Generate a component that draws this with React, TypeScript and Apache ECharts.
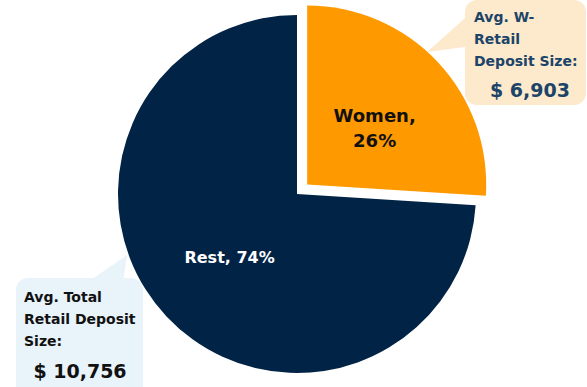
import React, { useEffect, useRef } from "react";
import * as echarts from "echarts";

const categories = ["Women", "Rest"];
const shares = [26, 74];
const sliceColors = ["#FF9900", "#012345"];
const calloutWomen = ["Avg. W-", "Retail", "Deposit Size:"];
const calloutWomenValue = "$ 6,903";
const calloutTotal = ["Avg. Total", "Retail Deposit", "Size:"];
const calloutTotalValue = "$ 10,756";

const FONT = "DejaVu Sans";

export default function App() {
  const ref = useRef<HTMLDivElement>(null);
  useEffect(() => {
    document.body.style.margin = "0";
    const chart = echarts.init(ref.current!, null, { renderer: "svg" });
    const textColorTR = "#1B4468";
    chart.setOption({
      animation: false,
      series: [
        {
          type: "pie",
          center: [297, 194],
          radius: [0, 179],
          startAngle: 90,
          selectedMode: "single",
          selectedOffset: 14,
          avoidLabelOverlap: false,
          labelLine: { show: false },
          data: categories.map((c, i) => ({
            name: c,
            value: shares[i],
            selected: i === 0,
            itemStyle: { color: sliceColors[i] },
            label: {
              show: true,
              position: "inside",
              formatter:
                i === 0 ? "{s|}\n{t|{b},}\n{t|{c}%}" : "{r|{b}, {c}%}",
              rich: {
                s: { lineHeight: 14, fontSize: 1 },
                t: {
                  color: "#111111",
                  fontFamily: FONT,
                  fontWeight: "bold",
                  fontSize: 18,
                  lineHeight: 25,
                },
                r: {
                  color: "#ffffff",
                  fontFamily: FONT,
                  fontWeight: "bold",
                  fontSize: 16,
                  lineHeight: 22,
                },
              },
            },
          })),
        },
      ],
      graphic: [
        {
          type: "polygon",
          z: 10,
          shape: { points: [[427, 52], [472, 12], [472, 46]] },
          style: { fill: "#FDE9CC" },
        },
        {
          type: "rect",
          z: 10,
          shape: { x: 465, y: 0, width: 121, height: 105, r: 12 },
          style: { fill: "#FDE9CC" },
        },
        {
          type: "text",
          z: 11,
          left: 474,
          top: 6,
          style: {
            text: calloutWomen.join("\n"),
            fill: textColorTR,
            font: `bold 14px "${FONT}"`,
            lineHeight: 22,
          },
        },
        {
          type: "text",
          z: 11,
          x: 530,
          y: 90,
          style: {
            text: calloutWomenValue,
            fill: textColorTR,
            font: `bold 19px "${FONT}"`,
            align: "center",
            verticalAlign: "middle",
          },
        },
        {
          type: "polygon",
          z: 10,
          shape: { points: [[127, 255], [88, 282], [123, 282]] },
          style: { fill: "#E8F3FA" },
        },
        {
          type: "rect",
          z: 10,
          shape: { x: 16, y: 278, width: 127, height: 120, r: 12 },
          style: { fill: "#E8F3FA" },
        },
        {
          type: "text",
          z: 11,
          left: 24,
          top: 286,
          style: {
            text: calloutTotal.join("\n"),
            fill: "#111111",
            font: `bold 14px "${FONT}"`,
            lineHeight: 22,
          },
        },
        {
          type: "text",
          z: 11,
          x: 80,
          y: 371,
          style: {
            text: calloutTotalValue,
            fill: "#111111",
            font: `bold 19px "${FONT}"`,
            align: "center",
            verticalAlign: "middle",
          },
        },
      ],
    });
    return () => chart.dispose();
  }, []);
  return (
    <div
      ref={ref}
      style={{ position: "absolute", left: 0, top: 0, width: 587, height: 387 }}
    />
  );
}
